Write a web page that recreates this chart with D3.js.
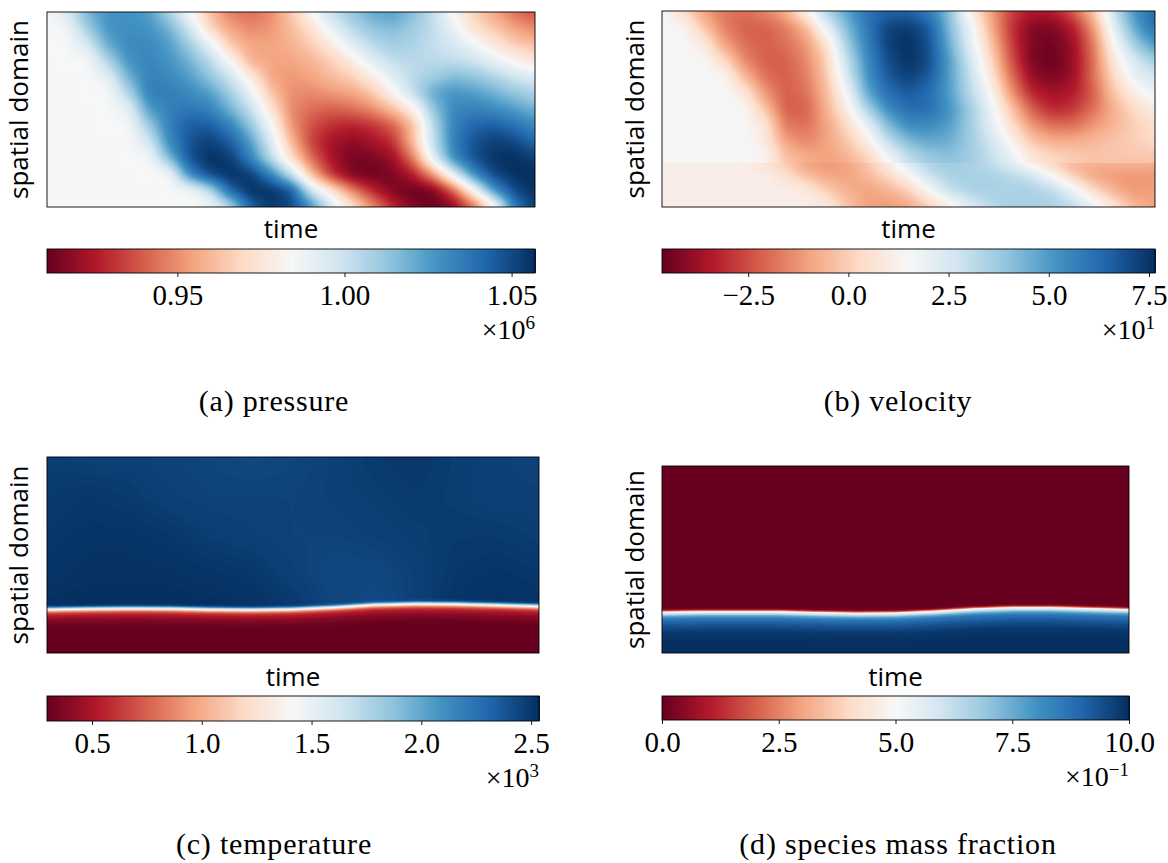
<!DOCTYPE html>
<html>
<head>
<meta charset="utf-8">
<script src="https://cdn.jsdelivr.net/npm/d3@7"></script>
<style>
	html, body { margin: 0; padding: 0; background: #fff; }
	svg { display: block; }
	.sans { font-family: "Open Sans", "Noto Sans", sans-serif; fill: #000; }
	.serif { font-family: "Liberation Serif", serif; fill: #000; }
</style>
</head>
<body>
<svg id="chart" width="1168" height="863"></svg>
<script>
// colormap stops (RdBu)
const rdbu = ["#67001f", "#b2182b", "#d6604d", "#f4a582", "#fddbc7", "#f7f7f7", "#d1e5f0", "#92c5de", "#4393c3", "#2166ac", "#053061"];

// pressure, kPa. one row per spatial position, top to bottom, 25 time steps
const pressureRowPos = [0, 1 / 12, 2 / 12, 3 / 12, 4 / 12, 5 / 12, 6 / 12, 7 / 12, 8 / 12, 9 / 12, 10 / 12, 11 / 12, 1];
const pressure = [
	[984, 996, 1019, 1028, 1028, 1025, 1007, 984, 961, 946, 943, 949, 964, 984, 1002, 1013, 1022, 1025, 1016, 1002, 981, 966, 955, 943, 937],
	[984, 987, 1010, 1028, 1029, 1028, 1019, 999, 969, 955, 949, 952, 961, 972, 990, 1004, 1013, 1016, 1010, 1002, 990, 972, 964, 955, 949],
	[984, 984, 996, 1022, 1031, 1031, 1025, 1010, 991, 964, 955, 955, 958, 966, 978, 993, 1004, 1010, 1007, 1002, 996, 987, 975, 966, 961],
	[984, 984, 984, 1007, 1028, 1032, 1028, 1019, 1004, 984, 958, 955, 955, 959, 966, 978, 993, 1002, 1004, 1003, 1002, 999, 990, 981, 975],
	[984, 984, 984, 991, 1019, 1034, 1031, 1025, 1013, 999, 978, 955, 952, 955, 961, 966, 978, 993, 1004, 1010, 1016, 1013, 1007, 999, 993],
	[984, 984, 984, 984, 1006, 1034, 1035, 1031, 1025, 1010, 991, 964, 950, 949, 952, 955, 964, 981, 1002, 1022, 1028, 1025, 1019, 1013, 1007],
	[984, 984, 984, 984, 990, 1025, 1034, 1037, 1034, 1019, 1002, 975, 949, 943, 940, 943, 949, 961, 978, 1013, 1031, 1034, 1031, 1025, 1019],
	[984, 984, 984, 984, 984, 1010, 1034, 1045, 1045, 1034, 1013, 987, 952, 937, 930, 927, 931, 940, 961, 1004, 1034, 1042, 1045, 1039, 1031],
	[984, 984, 984, 984, 984, 996, 1031, 1047, 1053, 1045, 1025, 996, 961, 934, 923, 918, 923, 930, 961, 1002, 1034, 1048, 1053, 1051, 1042],
	[984, 984, 984, 984, 984, 984, 1016, 1048, 1057, 1054, 1034, 1004, 972, 943, 923, 914, 915, 921, 946, 993, 1031, 1048, 1056, 1057, 1053],
	[984, 984, 984, 984, 984, 984, 984, 1031, 1051, 1057, 1054, 1034, 1002, 961, 931, 915, 912, 915, 926, 952, 993, 1031, 1051, 1057, 1057],
	[984, 984, 984, 984, 984, 984, 984, 984, 1002, 1042, 1057, 1057, 1048, 999, 975, 949, 929, 915, 911, 914, 940, 984, 1028, 1050, 1057],
	[984, 984, 984, 984, 984, 984, 984, 984, 984, 1002, 1042, 1054, 1051, 1031, 996, 975, 952, 931, 917, 911, 917, 940, 977, 1035, 1054],
];

// velocity, m/s. two close rows for the step near the bottom
const velocityRowPos = [0, 1 / 12, 2 / 12, 3 / 12, 4 / 12, 5 / 12, 6 / 12, 7 / 12, 8 / 12, 9 / 12, 0.769, 0.779, 10 / 12, 11 / 12, 1];
const velocity = [
	[15, 3, -10, -18, -19, -15, -7, 13, 35, 49, 61, 64, 64, 57, 40, 10, -10, -27, -34, -33, -22, -2, 30, 52, 64],
	[15, 15, -2, -16, -22, -22, -17, -6, 20, 42, 59, 72, 74, 67, 42, 20, -7, -29, -42, -43, -34, -12, 22, 47, 62],
	[15, 15, 10, -10, -19, -22, -19, -12, 5, 37, 57, 73, 76, 69, 45, 22, -2, -27, -43, -45, -38, -17, 15, 37, 52],
	[15, 15, 15, 3, -15, -22, -22, -15, 0, 30, 54, 70, 76, 70, 49, 27, 3, -24, -43, -46, -39, -19, 8, 25, 37],
	[15, 15, 15, 15, -5, -19, -22, -17, -2, 25, 52, 67, 73, 67, 49, 30, 8, -19, -39, -43, -38, -19, 3, 20, 27],
	[15, 15, 15, 15, 8, -12, -22, -19, -5, 17, 47, 62, 67, 62, 49, 32, 15, -12, -32, -37, -34, -22, -2, 10, 20],
	[15, 15, 15, 15, 15, -2, -22, -22, -7, 10, 35, 54, 62, 62, 52, 37, 20, -2, -22, -32, -29, -19, -7, 3, 10],
	[15, 15, 15, 15, 15, 8, -17, -19, -10, 3, 20, 42, 54, 54, 49, 37, 22, 5, -12, -19, -19, -12, -6, 0, 5],
	[15, 15, 15, 15, 15, 10, -10, -15, -10, -2, 10, 30, 42, 47, 45, 37, 27, 13, -2, -7, -7, -5, -2, 0, 3],
	[15, 15, 15, 15, 15, 15, -2, -7, -10, -7, 0, 15, 30, 37, 40, 37, 30, 22, 8, 3, 0, -2, -2, -2, -2],
	[15, 15, 15, 15, 15, 15, -2, -7, -10, -7, 0, 15, 30, 37, 40, 37, 30, 22, 8, 3, 0, -2, -2, -2, -2],
	[11, 11, 11, 11, 11, 5, -2, -10, -12, -10, -2, 10, 25, 35, 37, 35, 30, 22, 10, 0, -6, -6, -6, -6, -6],
	[11, 11, 11, 11, 11, 11, 5, -5, -10, -10, -5, 3, 15, 30, 35, 35, 35, 32, 27, 13, -2, -10, -12, -12, -12],
	[11, 11, 11, 11, 11, 11, 11, 10, 0, -7, -10, -7, 0, 15, 30, 35, 35, 35, 35, 32, 20, 3, -7, -12, -10],
	[11, 11, 11, 11, 11, 11, 11, 11, 10, -2, -10, -12, -10, -2, 8, 22, 32, 35, 35, 35, 32, 22, 8, -5, -10],
];

// temperature, K. flame front height per time step, profile across the front, hot side map
const frontTemperature = [0.22, 0.223, 0.225, 0.224, 0.22, 0.218, 0.221, 0.23, 0.243, 0.248, 0.247, 0.242, 0.236];
const profileOffsetTemperature = [-0.112, -0.082, -0.061, -0.046, -0.031, -0.02, -0.013, -0.005, 0, 0.008, 0.013, 0.02, 0.031];
const profileTemperature = [295, 320, 370, 430, 520, 640, 800, 1100, 1400, 1800, 2150, 2480, 2536];
const hotRowPos = [0, 0.2, 0.4, 0.6, 0.78];
const hotTemperature = [
	[2480, 2469, 2469, 2457, 2446, 2435, 2446, 2469, 2491, 2503, 2480, 2469, 2457],
	[2491, 2503, 2491, 2469, 2457, 2457, 2457, 2469, 2480, 2491, 2480, 2469, 2469],
	[2503, 2514, 2514, 2503, 2480, 2469, 2457, 2457, 2469, 2480, 2491, 2491, 2480],
	[2514, 2525, 2525, 2525, 2514, 2503, 2469, 2435, 2435, 2469, 2503, 2514, 2503],
	[2536, 2536, 2536, 2536, 2536, 2525, 2503, 2446, 2424, 2469, 2514, 2525, 2525],
];

// species mass fraction, same layout
const frontSpecies = [0.218, 0.221, 0.221, 0.221, 0.216, 0.2125, 0.214, 0.223, 0.236, 0.243, 0.243, 0.2375, 0.232];
const profileOffsetSpecies = [-0.16, -0.107, -0.064, -0.037, -0.021, -0.011, 0, 0.005, 0.011, 0.016, 0.027];
const profileSpecies = [1, 0.98, 0.92, 0.86, 0.75, 0.62, 0.5, 0.25, 0.1, 0.02, 0];

// colorbar ranges and ticks
const pressureRange = [911, 1057];
const pressureTicks = [950, 1000, 1050];
const velocityRange = [-46.5, 76.5];
const velocityTicks = [-25, 0, 25, 50, 75];
const temperatureRange = [295, 2536];
const temperatureTicks = [500, 1000, 1500, 2000, 2500];
const speciesRange = [0, 1];
const speciesTicks = [0, 0.25, 0.5, 0.75, 1];

const panels = [
	{
		box: { x: 47, y: 12, w: 488, h: 195 }, barY: 249, barH: 24,
		range: pressureRange, ticks: pressureTicks, fmt: (d) => (d / 1000).toFixed(2), exp: "6",
		caption: "(a) pressure", capX: 274, capY: 411, labelX: 28, timeY: 238, blur: 4,
		field: gridField(pressure, pressureRowPos),
	},
	{
		box: { x: 662, y: 11, w: 493, h: 196 }, barY: 249, barH: 24,
		range: velocityRange, ticks: velocityTicks, fmt: (d) => (d / 10).toFixed(1).replace("-", "\u2212"), exp: "1",
		caption: "(b) velocity", capX: 898, capY: 411, labelX: 644, timeY: 238, blur: 4, splitAt: 0.774,
		field: gridField(velocity, velocityRowPos),
	},
	{
		box: { x: 47, y: 457, w: 492, h: 196 }, barY: 696, barH: 25,
		range: temperatureRange, ticks: temperatureTicks, fmt: (d) => (d / 1000).toFixed(1), exp: "3",
		caption: "(c) temperature", capX: 274, capY: 854, labelX: 28, timeY: 686, blur: 0,
		field: frontField(frontTemperature, profileOffsetTemperature, profileTemperature, hotTemperature),
	},
	{
		box: { x: 662, y: 466, w: 467, h: 187 }, barY: 696, barH: 24,
		range: speciesRange, ticks: speciesTicks, fmt: (d) => (d * 10).toFixed(1), exp: "\u22121",
		caption: "(d) species mass fraction", capX: 898, capY: 854, labelX: 644, timeY: 686, blur: 0,
		field: frontField(frontSpecies, profileOffsetSpecies, profileSpecies, null),
	},
];

function gridField(rows, rowPos) {
	const toCol = d3.scaleLinear().domain([0, 1]).range([0, rows[0].length - 1]);
	const toRow = d3.scaleLinear().domain(rowPos).range(d3.range(rows.length));
	return (u, v) => {
		const c = toCol(u);
		const r = toRow(v);
		const c0 = Math.min(Math.floor(c), rows[0].length - 2);
		const r0 = Math.min(Math.floor(r), rows.length - 2);
		const fc = c - c0;
		const fr = r - r0;
		const top = rows[r0][c0] * (1 - fc) + rows[r0][c0 + 1] * fc;
		const bottom = rows[r0 + 1][c0] * (1 - fc) + rows[r0 + 1][c0 + 1] * fc;
		return top * (1 - fr) + bottom * fr;
	};
}

function frontField(front, offsets, profile, hot) {
	const frontAt = d3.scaleLinear().domain(front.map((d, i) => i / (front.length - 1))).range(front);
	const across = d3.scaleLinear().domain(offsets).range(profile).clamp(true);
	const hotAt = hot ? gridField(hot, hotRowPos) : null;
	const last = profile[profile.length - 1];
	const span = last - profile[0];
	return (u, v) => {
		const value = across(1 - v - frontAt(u));
		if (!hotAt) return value;
		const share = (value - profile[0]) / span;
		return value + (hotAt(u, Math.min(v, hotRowPos[hotRowPos.length - 1])) - last) * share;
	};
}

// sample a field on the pixel grid, softened like the original image resampling
function sampleField(p) {
	const { w, h } = p.box;
	const values = new Float64Array(w * h);
	const parts = p.splitAt ? [[0, Math.round(p.splitAt * h)], [Math.round(p.splitAt * h), h]] : [[0, h]];
	parts.forEach(([from, to]) => {
		const data = new Float64Array(w * (to - from));
		for (let j = from; j < to; j++) {
			for (let i = 0; i < w; i++) {
				data[(j - from) * w + i] = p.field((i + 0.5) / w, (j + 0.5) / h);
			}
		}
		if (p.blur) d3.blur2({ data, width: w, height: to - from }, p.blur);
		values.set(data, from * w);
	});
	return values;
}

const svg = d3.select("#chart");

panels.forEach((p) => {
	const { x, y, w, h } = p.box;
	const color = d3.scaleLinear()
		.domain(rdbu.map((c, i) => p.range[0] + ((p.range[1] - p.range[0]) * i) / 10))
		.range(rdbu)
		.clamp(true);
	const levels = d3.range(256).map((i) => d3.rgb(color(p.range[0] + ((p.range[1] - p.range[0]) * i) / 255)));
	const level = d3.scaleQuantize().domain(p.range).range(levels);

	// heatmap
	const values = sampleField(p);
	const canvas = document.createElement("canvas");
	canvas.width = w;
	canvas.height = h;
	const ctx = canvas.getContext("2d");
	const img = ctx.createImageData(w, h);
	values.forEach((value, n) => {
		const c = level(value);
		img.data[n * 4] = c.r;
		img.data[n * 4 + 1] = c.g;
		img.data[n * 4 + 2] = c.b;
		img.data[n * 4 + 3] = 255;
	});
	ctx.putImageData(img, 0, 0);
	svg.append("image").attr("x", x).attr("y", y).attr("width", w).attr("height", h).attr("href", canvas.toDataURL());
	svg.append("rect").attr("x", x).attr("y", y).attr("width", w).attr("height", h)
		.attr("fill", "none").attr("stroke", "#000").attr("stroke-width", 0.9);

	svg.append("text").attr("class", "sans")
		.attr("transform", `translate(${p.labelX},${y + h / 2}) rotate(-90)`)
		.attr("text-anchor", "middle").attr("font-size", 26)
		.text("spatial domain");
	svg.append("text").attr("class", "sans")
		.attr("x", x + w / 2).attr("y", p.timeY)
		.attr("text-anchor", "middle").attr("font-size", 26)
		.text("time");

	// colorbar
	const barX = d3.scaleLinear().domain(p.range).range([x, x + w]);
	svg.append("g")
		.attr("shape-rendering", "crispEdges")
		.selectAll("rect")
		.data(levels)
		.join("rect")
		.attr("x", (d, i) => barX(p.range[0] + ((p.range[1] - p.range[0]) * i) / 256))
		.attr("y", p.barY)
		.attr("width", w / 256 + 1)
		.attr("height", p.barH)
		.attr("fill", (d) => d);
	svg.append("rect").attr("x", x).attr("y", p.barY).attr("width", w).attr("height", p.barH)
		.attr("fill", "none").attr("stroke", "#000").attr("stroke-width", 0.9);

	const axis = svg.append("g")
		.attr("transform", `translate(0,${p.barY + p.barH})`)
		.call(d3.axisBottom(barX).tickValues(p.ticks).tickFormat(p.fmt).tickSize(4));
	axis.select(".domain").remove();
	axis.selectAll("line").attr("stroke", "#000").attr("stroke-width", 0.9);
	axis.selectAll("text")
		.attr("y", 32)
		.attr("dy", 0)
		.attr("fill", "#000")
		.style("font-family", '"Liberation Serif", serif')
		.style("font-size", "29px");

	const expText = svg.append("text").attr("class", "serif")
		.attr("x", x + w).attr("y", p.barY + p.barH + 66)
		.attr("text-anchor", "end").attr("font-size", 28);
	expText.append("tspan").text("\u00d710");
	expText.append("tspan").attr("dy", -10).attr("font-size", 19).text(p.exp);

	svg.append("text").attr("class", "serif")
		.attr("x", p.capX).attr("y", p.capY)
		.attr("text-anchor", "middle").attr("font-size", 30)
		.attr("letter-spacing", 0.8)
		.text(p.caption);
});
</script>
</body>
</html>
